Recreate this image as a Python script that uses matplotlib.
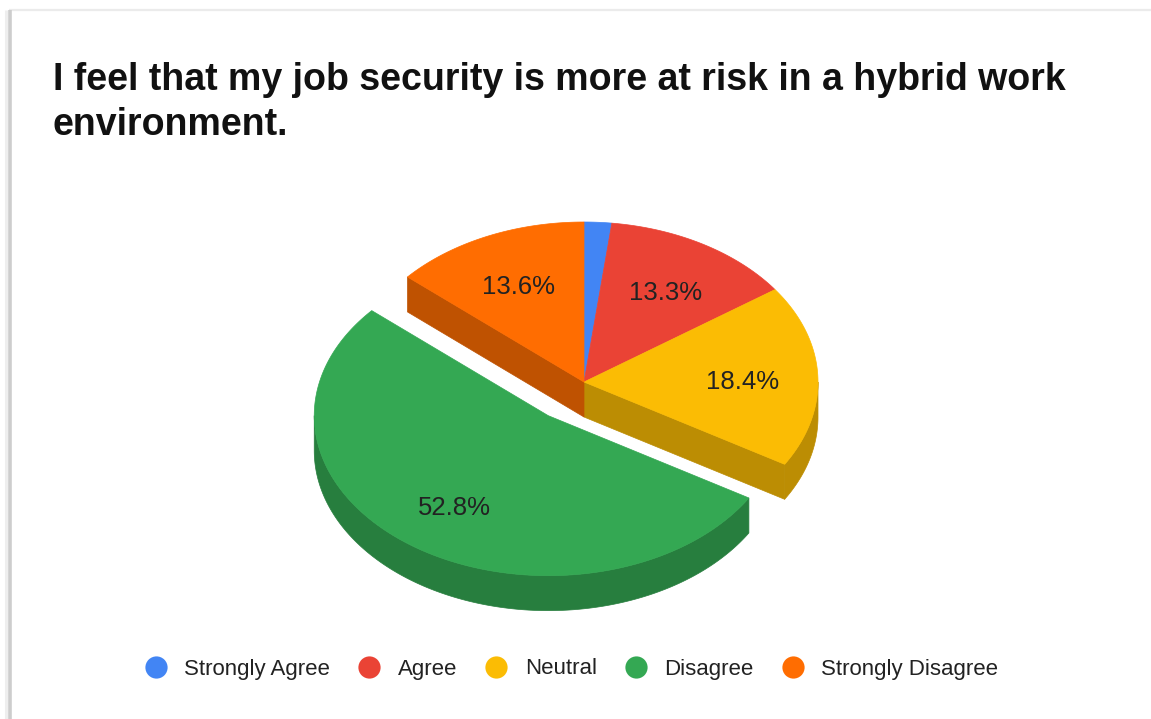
import numpy as np
import matplotlib
matplotlib.use('Agg')
import matplotlib.pyplot as plt
from matplotlib.patches import Polygon
from matplotlib.lines import Line2D

plt.rcParams['font.family'] = ['Liberation Sans', 'DejaVu Sans']

# ---------------- data ----------------
categories = ['Strongly Agree', 'Agree', 'Neutral', 'Disagree', 'Strongly Disagree']
values = [1.9, 13.3, 18.4, 52.8, 13.6]
colors = ['#4285F4', '#EA4335', '#FBBC04', '#34A853', '#FF6D01']
side_colors = ['#3163B7', '#AF3228', '#BC8D03', '#277E3E', '#BF5201']
explode = [0, 0, 0, 0.26, 0]
title_lines = ['I feel that my job security is more at risk in a hybrid work',
               'environment.']
label_min = 5.0

# ---------------- figure ----------------
W, H = 1151, 719
fig = plt.figure(figsize=(W / 100, H / 100), dpi=100)
ax = fig.add_axes([0, 0, 1, 1])
ax.set_xlim(0, W)
ax.set_ylim(H, 0)
ax.axis('off')

# screenshot frame lines
ax.plot([9, W], [10, 10], color='#ebebeb', lw=1.6, zorder=0, solid_capstyle='butt')
ax.plot([6, 6], [10, H], color='#eeeeee', lw=2.2, zorder=0, solid_capstyle='butt')
ax.plot([10, 10], [10, H], color='#cdcdcd', lw=2.6, zorder=0, solid_capstyle='butt')

# geometry of the 3D pie (pixels)
cx, cy, rx, ry, depth = 584, 382, 234, 160, 35


def pt(theta, ox=0.0, oy=0.0, dz=0.0):
    t = np.radians(theta)
    return cx + ox + rx * np.sin(t), cy + oy - ry * np.cos(t) + dz


def arc(a, b, ox, oy, dz=0.0, n=None):
    if n is None:
        n = max(2, int(abs(b - a) * 2) + 2)
    th = np.linspace(a, b, n)
    xs, ys = pt(th, ox, oy, dz)
    return list(zip(xs, ys))


total = float(sum(values))
cum = np.concatenate([[0], np.cumsum(values)]) / total * 360.0
N = len(values)

for pass_exploded in (False, True):
    zbase = 4 if pass_exploded else 1
    for i in range(N):
        if (explode[i] > 0) != pass_exploded:
            continue
        a, b = cum[i], cum[i + 1]
        m = 0.5 * (a + b)
        ox = explode[i] * rx * np.sin(np.radians(m))
        oy = -explode[i] * ry * np.cos(np.radians(m))
        c0 = (cx + ox, cy + oy)
        # radial faces
        for edge, normal, nb in ((a, a - 90, (i - 1) % N), (b, b + 90, (i + 1) % N)):
            if np.cos(np.radians(normal)) >= 0:
                continue
            if not pass_exploded and explode[nb] == 0:
                continue
            px, py = pt(edge, ox, oy)
            face = [c0, (px, py), (px, py + depth), (c0[0], c0[1] + depth)]
            ax.add_patch(Polygon(face, closed=True, facecolor=side_colors[i],
                                 edgecolor=side_colors[i], lw=0.5, zorder=zbase))
        # outer front wall
        fa, fb = max(a, 90.0), min(b, 270.0)
        if fb > fa:
            top = arc(fa, fb, ox, oy)
            bot = arc(fb, fa, ox, oy, depth)
            ax.add_patch(Polygon(top + bot, closed=True, facecolor=side_colors[i],
                                 edgecolor=side_colors[i], lw=0.5, zorder=zbase + 1))
        # top surface
        poly = [c0] + arc(a, b, ox, oy)
        ax.add_patch(Polygon(poly, closed=True, facecolor=colors[i],
                             edgecolor=colors[i], lw=0.5, zorder=zbase + 2))
        # label
        if values[i] >= label_min:
            lx, ly = pt(m, ox, oy)
            fx = c0[0] + 0.68 * (lx - c0[0])
            fy = c0[1] + 0.68 * (ly - c0[1]) + 4
            ax.text(fx, fy, f'{values[i]:.1f}%', ha='center', va='center',
                    fontsize=18.5, color='#222222', zorder=10)

# title
ax.text(53, 90, title_lines[0], ha='left', va='baseline', fontsize=27,
        fontweight='bold', color='#111111')
ax.text(53, 135, title_lines[1], ha='left', va='baseline', fontsize=27,
        fontweight='bold', color='#111111')

# legend
handles = [Line2D([], [], marker='o', ls='', markersize=16, markerfacecolor=c,
                  markeredgewidth=0) for c in colors]
fig.legend(handles, categories, loc='center', bbox_to_anchor=(571.5 / W, 1 - 669 / H),
           ncol=5, frameon=False, fontsize=16, handlelength=1.0, handletextpad=0.77,
           columnspacing=1.28, labelcolor='#222222', borderaxespad=0, borderpad=0)

fig.savefig('out.png', dpi=100, facecolor='white')
